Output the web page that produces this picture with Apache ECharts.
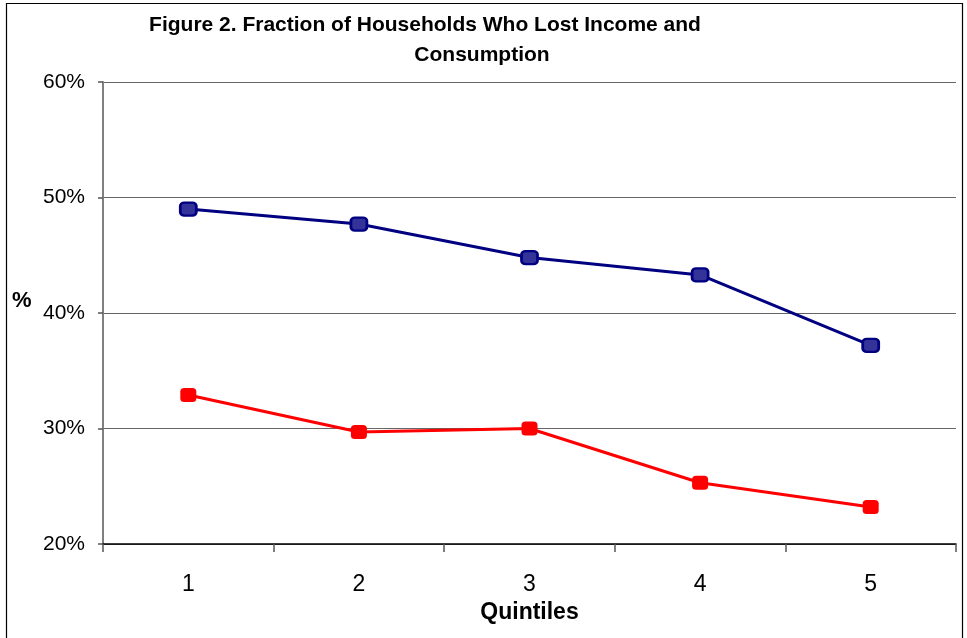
<!DOCTYPE html>
<html><head><meta charset="utf-8">
<script src="https://cdn.jsdelivr.net/npm/echarts@6/dist/echarts.min.js"></script>
<style>html,body{margin:0;padding:0;background:#fff}#c{width:967px;height:638px}</style>
</head><body><div id="c"></div>
<script>
var categories = ['1','2','3','4','5'];
var lostIncome = [49.0, 47.7, 44.8, 43.3, 37.2];
var lostConsumption = [32.9, 29.7, 30.0, 25.3, 23.2];
var yTicks = [20, 30, 40, 50, 60];

var chart = echarts.init(document.getElementById('c'));
var F = 'Arial, "Liberation Sans", sans-serif';
chart.setOption({
  animation: false,
  backgroundColor: '#fff',
  title: [
    {text: 'Figure 2. Fraction of Households Who Lost Income and', left: 420, top: 10, textAlign: 'center',
     textStyle: {fontFamily: F, fontSize: 21, fontWeight: 'bold', color: '#000'}},
    {text: 'Consumption', left: 477, top: 40, textAlign: 'center',
     textStyle: {fontFamily: F, fontSize: 21, fontWeight: 'bold', color: '#000'}}
  ],
  graphic: [
    {type: 'rect', shape: {x: 6.5, y: 3.5, width: 956, height: 640}, style: {fill: 'none', stroke: '#000', lineWidth: 1.2}, silent: true},
    {type: 'text', left: 12, top: 290, style: {text: '%', font: 'bold 22px ' + F, fill: '#000'}}
  ],
  grid: {left: 103, right: 11, top: 82, bottom: 94, containLabel: false},
  xAxis: {
    type: 'category', data: categories, boundaryGap: true,
    name: 'Quintiles', nameLocation: 'middle', nameGap: 56,
    nameTextStyle: {fontFamily: F, fontSize: 23, fontWeight: 'bold', color: '#000'},
    axisLine: {lineStyle: {color: '#000', width: 1.5}},
    axisTick: {show: true, length: 8, inside: false, lineStyle: {color: '#555', width: 1.5}},
    axisLabel: {fontFamily: F, fontSize: 23, color: '#000', margin: 29},
    splitLine: {show: false}
  },
  yAxis: {
    type: 'value', min: 20, max: 60, interval: 10,
    axisLine: {show: true, lineStyle: {color: '#808080', width: 2}},
    axisTick: {show: true, length: 5, lineStyle: {color: '#555', width: 1.5}},
    axisLabel: {fontFamily: F, fontSize: 21, color: '#000', margin: 18,
      formatter: function(v){ return yTicks.indexOf(v) >= 0 ? v + '%' : ''; }},
    splitLine: {show: true, lineStyle: {color: '#666', width: 1.2}}
  },
  series: [
    {type: 'line', data: lostIncome, symbol: 'roundRect', symbolSize: [16, 13],
     lineStyle: {color: '#000080', width: 3},
     itemStyle: {color: '#333399', borderColor: '#000080', borderWidth: 2.5}},
    {type: 'line', data: lostConsumption, symbol: 'roundRect', symbolSize: [16, 14],
     lineStyle: {color: '#FF0000', width: 3},
     itemStyle: {color: '#FF0000', borderColor: '#FF0000', borderWidth: 0}}
  ]
});
</script></body></html>
